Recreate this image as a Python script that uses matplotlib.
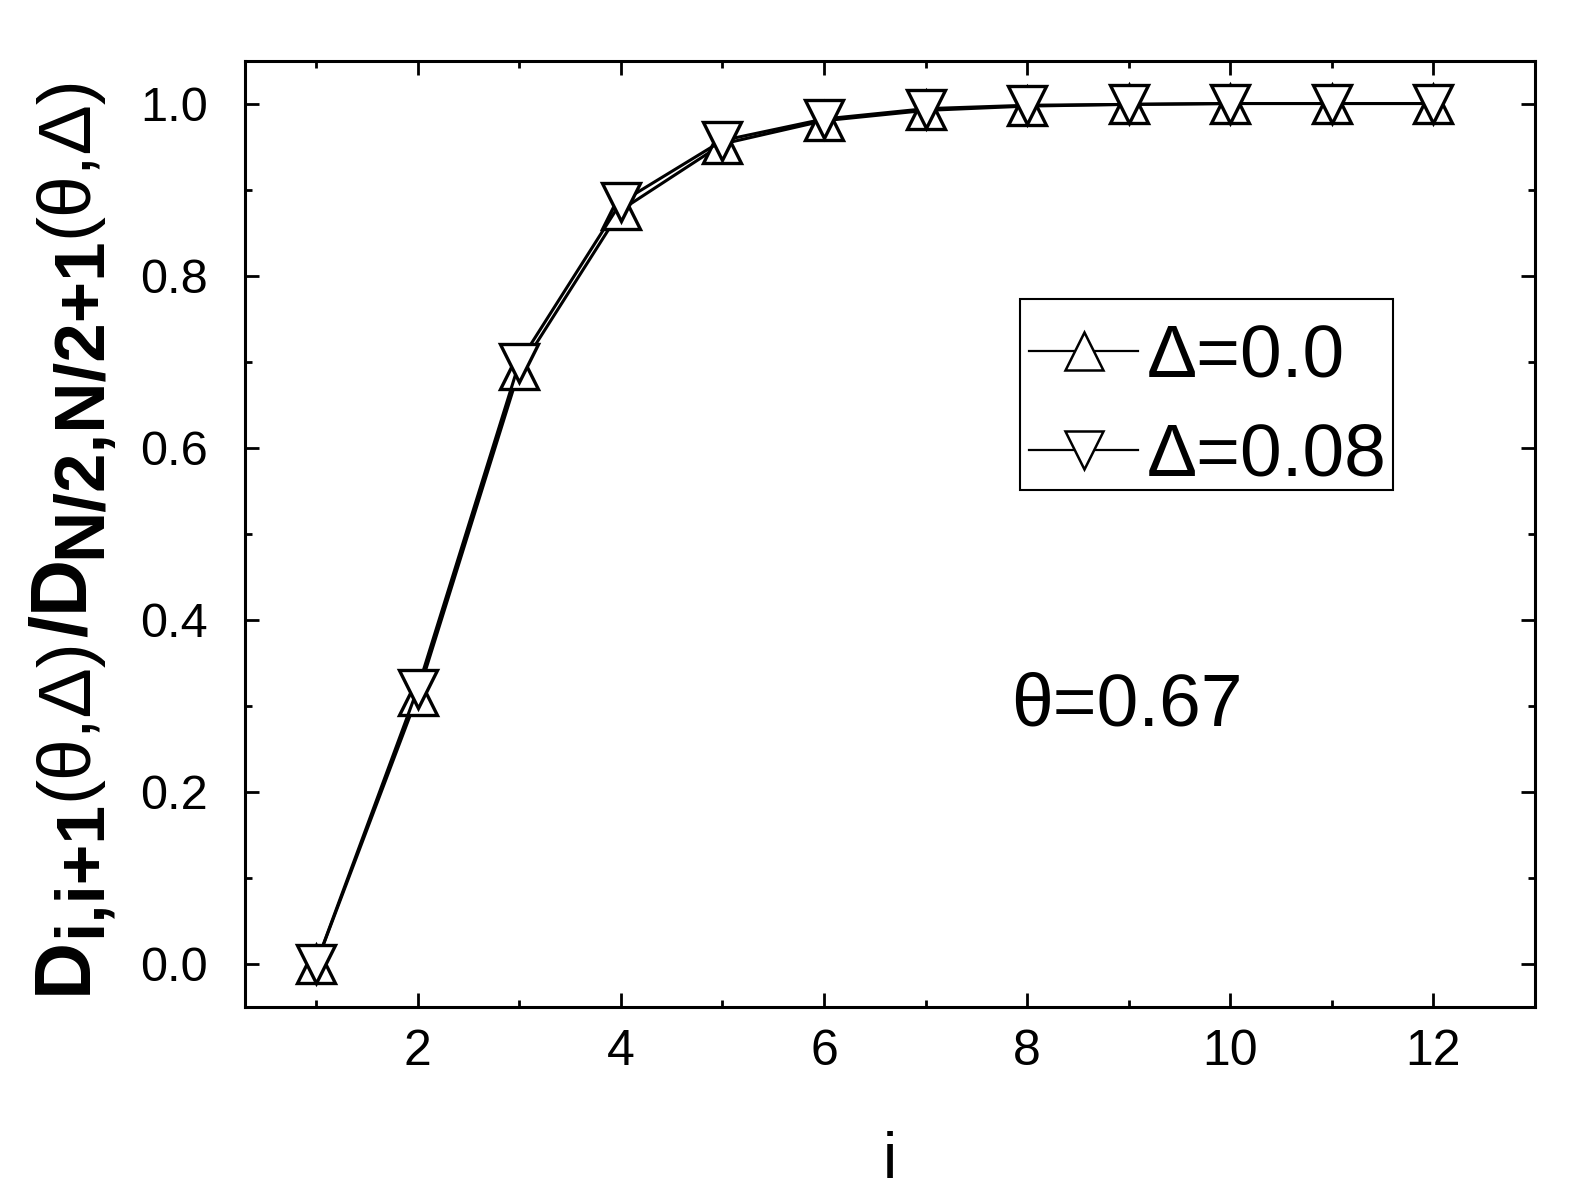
import matplotlib
matplotlib.use("Agg")
import matplotlib.pyplot as plt
from matplotlib.patches import Rectangle
from matplotlib.ticker import MultipleLocator, FormatStrFormatter

plt.rcParams['font.family'] = ['Liberation Sans', 'DejaVu Sans']

# ---- data ----
site_i = [1, 2, 3, 4, 5, 6, 7, 8, 9, 10, 11, 12]
ratio_d00 = [0.0, 0.312, 0.690, 0.876, 0.953, 0.980, 0.992, 0.997, 0.999, 1.0, 1.0, 1.0]
ratio_d08 = [0.0, 0.320, 0.699, 0.885, 0.957, 0.982, 0.994, 0.998, 0.999, 1.0, 1.0, 1.0]
labels = ["\u0394=0.0", "\u0394=0.08"]
theta_text = "\u03b8=0.67"

W, H, DPI = 1580, 1200, 100
fig = plt.figure(figsize=(W / DPI, H / DPI), dpi=DPI)
ax = fig.add_axes([245 / W, 1 - 1007 / H, (1535 - 245) / W, (1007 - 60.5) / H])

ax.plot(site_i, ratio_d00, color='black', lw=2.2, marker='^', ms=27,
        mfc='white', mec='black', mew=2.4, label=labels[0])
ax.plot(site_i, ratio_d08, color='black', lw=2.2, marker='v', ms=27,
        mfc='white', mec='black', mew=2.4, label=labels[1])

ax.set_xlim(0.3, 13.0)
ax.set_ylim(-0.05, 1.05)
ax.xaxis.set_major_locator(MultipleLocator(2))
ax.xaxis.set_minor_locator(MultipleLocator(1))
ax.yaxis.set_major_locator(MultipleLocator(0.2))
ax.yaxis.set_minor_locator(MultipleLocator(0.1))
ax.yaxis.set_major_formatter(FormatStrFormatter('%.1f'))

ax.tick_params(which='both', direction='in', top=True, right=True, width=2.0)
ax.tick_params(which='major', length=10)
ax.tick_params(which='minor', length=5)
ax.tick_params(axis='x', labelsize=36, pad=16)
ax.tick_params(axis='y', labelsize=35, pad=27)
for sp in ax.spines.values():
    sp.set_linewidth(2.2)

ax.set_xlabel("i", fontsize=46, labelpad=40)

# legend frame drawn separately so the rows can sit like in the original
ax.add_patch(Rectangle((0.6008, 0.5465), 0.8902 - 0.6008, 0.7477 - 0.5465,
                       transform=ax.transAxes, fill=False, ec='black', lw=1.5, zorder=4))
leg = ax.legend(loc='upper left', bbox_to_anchor=(0.601, 0.7316), borderaxespad=0,
                fontsize=54, frameon=False,
                handlelength=1.45, handletextpad=0.12, borderpad=0.12,
                labelspacing=0.39)
for ln in leg.get_lines():
    ln.set_linewidth(1.6)
    ln.set_markeredgewidth(1.8)

ax.text(1011, H - 726, theta_text, transform=None, fontsize=54)

# y label built from pieces: full-size text with lowered subscripts
pieces = [("D", 0, 'bold', 57), ("i,i+1", 1, 'bold', 50), ("(\u03b8,\u0394)", 0, 'normal', 54),
          ("/D", 0, 'bold', 57), ("N/2,N/2+1", 1, 'bold', 51), ("(\u03b8,\u0394)", 0, 'normal', 54)]
base_x = 86
sub_shift = 14
renderer = fig.canvas.get_renderer()
objs = []
for s, sub, wt, fs in pieces:
    t = fig.text(0, 0, s, fontsize=fs, fontweight=wt, rotation=90,
                 rotation_mode='anchor', ha='left', va='baseline', transform=None)
    objs.append((t, sub))
lengths = [t.get_window_extent(renderer).height for t, _ in objs]
total = sum(lengths)
y0 = (H - 993 + H - 75) / 2 - total / 2
for (t, sub), ln in zip(objs, lengths):
    t.set_position((base_x + sub_shift * sub, y0))
    y0 += ln

fig.savefig("out.png", dpi=DPI)
